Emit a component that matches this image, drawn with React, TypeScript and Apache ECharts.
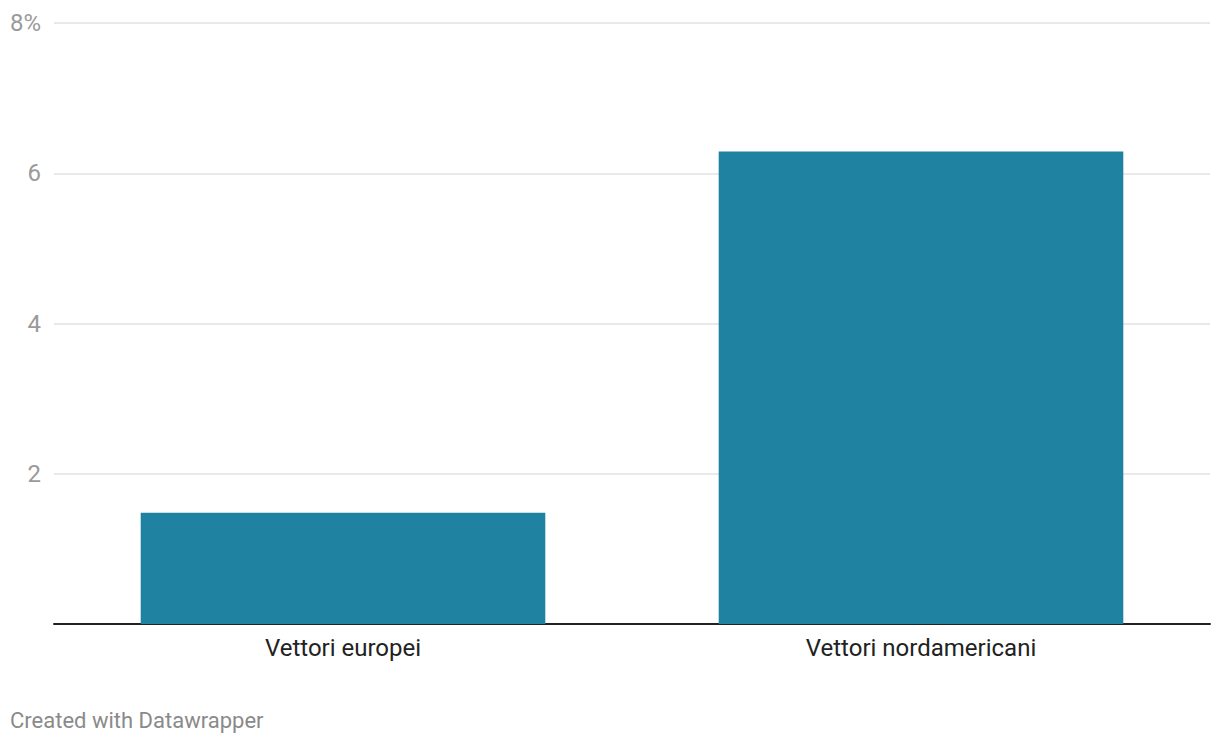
import React, { useEffect, useRef } from "react";
import * as echarts from "echarts";

const categories = ["Vettori europei", "Vettori nordamericani"];
const values = [1.48, 6.29];
const yTicks = [0, 2, 4, 6, 8];
const footer = "Created with Datawrapper";

export default function App() {
  const ref = useRef<HTMLDivElement>(null);
  useEffect(() => {
    document.body.style.margin = "0";
    const chart = echarts.init(ref.current!, null, { renderer: "svg" });
    chart.setOption({
      animation: false,
      textStyle: { fontFamily: "Roboto" },
      grid: { left: 54, right: 10, top: 23, bottom: 120, containLabel: false },
      xAxis: {
        type: "category",
        data: categories,
        axisLine: { show: true, lineStyle: { color: "#222", width: 2 } },
        axisTick: { show: false },
        axisLabel: { color: "#222", fontSize: 24, margin: 12, fontFamily: "Roboto" },
      },
      yAxis: {
        type: "value",
        min: yTicks[0],
        max: yTicks[yTicks.length - 1],
        interval: 2,
        axisLine: { show: false },
        axisTick: { show: false },
        splitLine: { lineStyle: { color: "#e2e2e2", width: 1.5 } },
        axisLabel: {
          color: "#9a9a9a",
          fontSize: 24,
          margin: 13,
          fontFamily: "Roboto",
          formatter: (v: number) => (v === 0 ? "" : v === 8 ? v + "%" : String(v)),
        },
      },
      series: [
        {
          type: "bar",
          data: values,
          barWidth: "70%",
          itemStyle: { color: "#1f82a1" },
          silent: true,
        },
      ],
      graphic: [
        {
          type: "text",
          left: 10,
          top: 709,
          style: { text: footer, fill: "#8a8a8a", fontSize: 22, fontFamily: "Roboto" },
        },
      ],
    });
    return () => chart.dispose();
  }, []);
  return <div ref={ref} style={{ width: 1220, height: 744 }} />;
}
